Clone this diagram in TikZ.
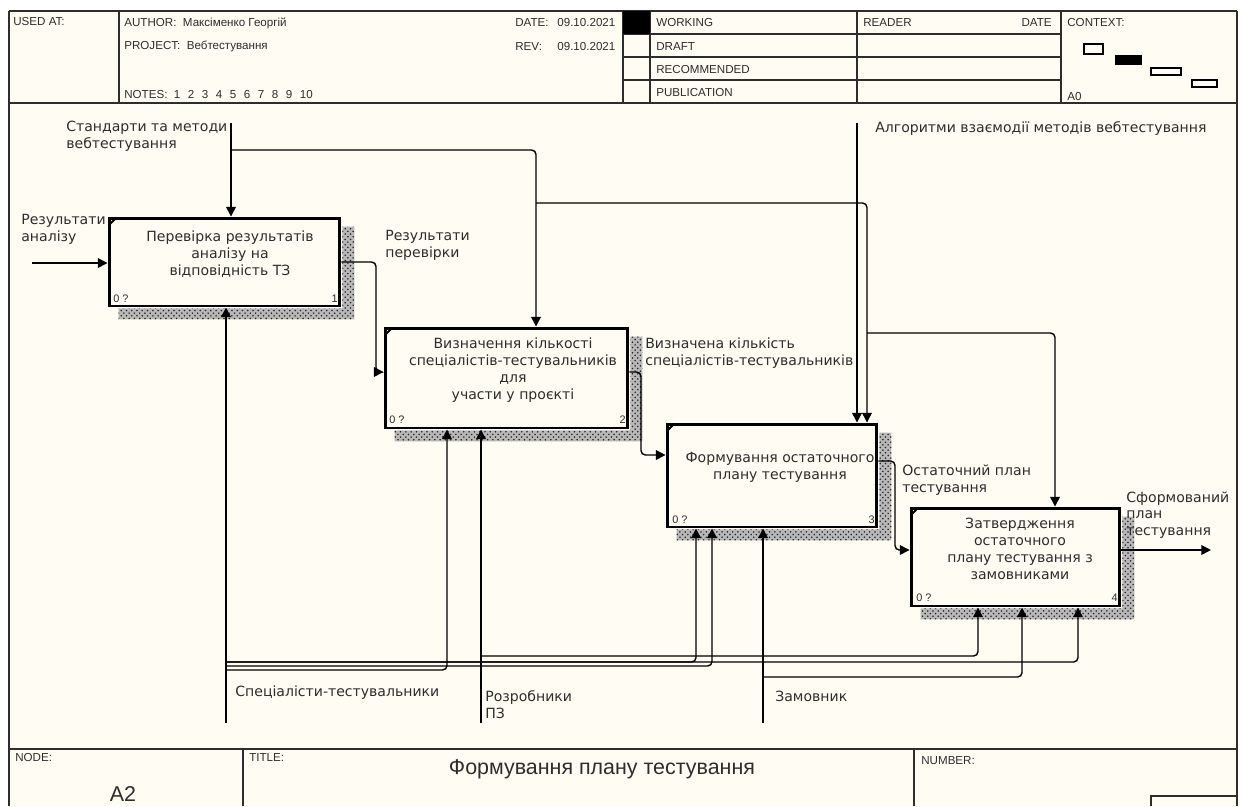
\documentclass[tikz,border=0pt]{standalone}
\usepackage{fontspec}
\setmainfont{Liberation Sans}
\newfontfamily\labfont{DejaVu Sans}
\usetikzlibrary{arrows.meta,patterns,calc}
\definecolor{bg}{RGB}{255,252,243}
\definecolor{ink}{RGB}{45,45,45}
\newcommand\notegap{\hspace{4.3pt}}
\begin{document}
\begin{tikzpicture}[x=0.02cm,y=-0.02cm,
  frame/.style={draw=ink,line width=0.85pt},
  hdr/.style={font=\fontsize{6.6}{7}\selectfont,text=ink,inner sep=0pt,anchor=west},
  procbox/.style={draw=black,line width=1.7pt,fill=bg,inner sep=0pt},
  boxtext/.style={font=\labfont\fontsize{8}{9.6}\selectfont,text=ink,align=center,inner sep=0pt},
  lab/.style={font=\labfont\fontsize{8}{9.6}\selectfont,text=ink,align=left,inner sep=0pt,anchor=west},
  corner/.style={font=\fontsize{6.2}{7}\selectfont,text=ink,inner sep=0pt},
  conn/.style={draw=black,line width=0.8pt,rounded corners=2.5pt},
  arr/.style={conn,-{Triangle[length=5.5pt,width=5.5pt]}},
  shade/.style={preaction={fill=black!28},pattern=crosshatch dots,pattern color=black!85},
  notch/.style={draw=black,line width=1.1pt},
  ctx/.style={draw=black,line width=0.6pt}
]
\useasboundingbox (0,0) rectangle (1245,806);
\fill[white] (0,0) rectangle (1245,806);
\fill[bg] (9,11) rectangle (1237,806);

% ---------- frame and header ----------
\draw[frame] (9,11) -- (1237,11);
\draw[frame] (9,103) -- (1237,103);
\draw[frame,line width=1.3pt] (9,11) -- (9,806);
\draw[frame] (1237,11) -- (1237,806);
\draw[frame] (119,11) -- (119,103);
\draw[frame] (623,11) -- (623,103);
\draw[frame] (650,11) -- (650,103);
\draw[frame] (857,11) -- (857,103);
\draw[frame] (1061,11) -- (1061,103);
\foreach \yy in {34,57,80} \draw[frame] (623,\yy) -- (1061,\yy);
\fill[black] (623,11) rectangle (650,34);

\node[hdr] (usedat) at (13,22) {USED AT:};
\node[hdr] (author) at (124,23) {AUTHOR:\ \ Максіменко Георгій};
\node[hdr] (project) at (124,46) {PROJECT:\ \ Вебтестування};
\node[hdr] (notes) at (124,95) {NOTES:\ \ 1\notegap 2\notegap 3\notegap 4\notegap 5\notegap 6\notegap 7\notegap 8\notegap 9\notegap 10};
\node[hdr] (date) at (515,23) {DATE:};
\node[hdr] (dateval) at (557,23) {09.10.2021};
\node[hdr] (rev) at (515,47) {REV:};
\node[hdr] (revval) at (557,47) {09.10.2021};
\node[hdr] (working) at (656,23) {WORKING};
\node[hdr] (draft) at (656,47) {DRAFT};
\node[hdr] (recomm) at (656,70) {RECOMMENDED};
\node[hdr] (public) at (656,93) {PUBLICATION};
\node[hdr] (reader) at (863,23) {READER};
\node[hdr,anchor=east] (rdate) at (1052,23) {DATE};
\node[hdr] (context) at (1067,23) {CONTEXT:};
\node[hdr] (a0) at (1067,97) {A0};
\draw[ctx] (1084,44) rectangle (1103,54);
\fill[black] (1115,55) rectangle (1142,65);
\draw[ctx] (1151,68) rectangle (1181,75);
\draw[ctx] (1192,80) rectangle (1217,87);

% ---------- bottom block ----------
\draw[frame] (9,749) -- (1237,749);
\draw[frame] (243,749) -- (243,806);
\draw[frame] (914,749) -- (914,806);
\draw[frame] (1151,806) -- (1151,796) -- (1237,796);
\node[hdr] (nodelbl) at (15,757) {NODE:};
\node[hdr] (titlelbl) at (249,757) {TITLE:};
\node[hdr] (numberlbl) at (921,761) {NUMBER:};
\node[font=\fontsize{12.2}{14}\selectfont,text=ink,inner sep=0pt] (title) at (602,769) {Формування плану тестування};
\node[font=\fontsize{12.2}{14}\selectfont,text=ink,inner sep=0pt] (a2) at (123,794) {A2};

% ---------- boxes ----------
\node[procbox,minimum width=4.62cm,minimum height=1.76cm] (b1) at (224.5,262) {};
\node[procbox,minimum width=4.86cm,minimum height=2.0cm] (b2) at (506.5,378) {};
\node[procbox,minimum width=4.2cm,minimum height=2.06cm] (b3) at (772,475.5) {};
\node[procbox,minimum width=4.18cm,minimum height=1.96cm] (b4) at (1015.5,557) {};

\foreach \b in {b1,b2,b3,b4}{
  \path[shade] ($(\b.north east)+(1,10)$) -- ($(\b.north east)+(13,10)$) -- ($(\b.south east)+(13,12)$)
     -- ($(\b.south west)+(11,12)$) -- ($(\b.south west)+(11,1)$) -- ($(\b.south east)+(1,1)$) -- cycle;
  \draw[notch] ($(\b.north west)+(1,9)$) -- ($(\b.north west)+(9,1)$);
}

\node[boxtext] (t1) at (230,254) {Перевірка результатів\\аналізу на\\відповідність ТЗ};
\node[boxtext] (t2) at (513,370) {Визначення кількості\\спеціалістів-тестувальників\\для\\участи у проєкті};
\node[boxtext] (t3) at (780,467) {Формування остаточного\\плану тестування};
\node[boxtext] (t4) at (1020,549) {Затвердження\\остаточного\\плану тестування з\\замовниками};

\node[corner,anchor=west] (b1z) at (113,299) {0 ?};
\node[corner,anchor=east] (b1n) at (338,299) {1};
\node[corner,anchor=west] (b2z) at (389,420) {0 ?};
\node[corner,anchor=east] (b2n) at (626,420) {2};
\node[corner,anchor=west] (b3z) at (672,520) {0 ?};
\node[corner,anchor=east] (b3n) at (875,520) {3};
\node[corner,anchor=west] (b4z) at (916,598) {0 ?};
\node[corner,anchor=east] (b4n) at (1118,598) {4};

% ---------- labels ----------
\node[lab] (lstd) at (66,136) {Стандарти та методи\\вебтестування};
\node[lab] (lalg) at (875,128) {Алгоритми взаємодії методів вебтестування};
\node[lab] (lres) at (21,229) {Результати\\аналізу};
\node[lab] (lper) at (385,245) {Результати\\перевірки};
\node[lab] (lviz) at (645,353) {Визначена кількість\\спеціалістів-тестувальників};
\node[lab] (lost) at (902,480) {Остаточний план\\тестування};
\node[lab] (lsf) at (1126,515) {Сформований\\план\\тестування};
\node[lab] (lsp) at (235,693) {Спеціалісти-тестувальники};
\node[lab] (lro) at (485,705) {Розробники\\ПЗ};
\node[lab] (lza) at (775,696) {Замовник};

% ---------- coordinates ----------
\coordinate (sTop) at (231,123);
\coordinate (aTop) at (857,123);
\coordinate (rIn) at (32,263);
\coordinate (oEnd) at (1211,550);
\coordinate (mSp) at (226,723);
\coordinate (mRo) at (481,723);
\coordinate (mZa) at (763,723);
\coordinate (j1) at (231,150);
\coordinate (j2) at (536,203);
\coordinate (j3) at (867,333);
\coordinate (jS1) at (226,670);
\coordinate (jS2) at (226,662);
\coordinate (jS3) at (226,666);
\coordinate (jR) at (481,656);
\coordinate (jZ) at (763,677);

% ---------- controls ----------
\draw[arr] (sTop) -- (sTop |- b1.north);
\draw[arr] (j1) -| (b2.north -| 536,0);
\draw[arr] (j2) -| (b3.north -| 867,0);
\draw[arr] (j3) -| (b4.north -| 1055,0);
\draw[arr] (aTop) -- (aTop |- b3.north);

% ---------- inputs / outputs ----------
\draw[arr] (rIn) -- (rIn -| b1.west);
\draw[arr] (b1.east) -- (376,262) -- (376,372) -- (b2.west |- 0,372);
\draw[arr] (b2.east |- 0,372) -| (641,455) -- (b3.west |- 0,455);
\draw[arr] (b3.east |- 0,461) -| (895,550) -- (b4.west |- 0,550);
\draw[arr] (b4.east |- 0,550) -- (oEnd);

% ---------- mechanisms ----------
\draw[arr] (mSp) -- (mSp |- b1.south);
\draw[arr] (jS1) -| (b2.south -| 447,0);
\draw[arr] (jS2) -| (b3.south -| 696,0);
\draw[arr] (jS2) -| (b4.south -| 1078,0);
\draw[arr] (jS3) -| (b3.south -| 712,0);
\draw[arr] (mRo) -- (mRo |- b2.south);
\draw[arr] (jR) -| (b4.south -| 978,0);
\draw[arr] (mZa) -- (mZa |- b3.south);
\draw[arr] (jZ) -| (b4.south -| 1022,0);
\end{tikzpicture}
\end{document}
